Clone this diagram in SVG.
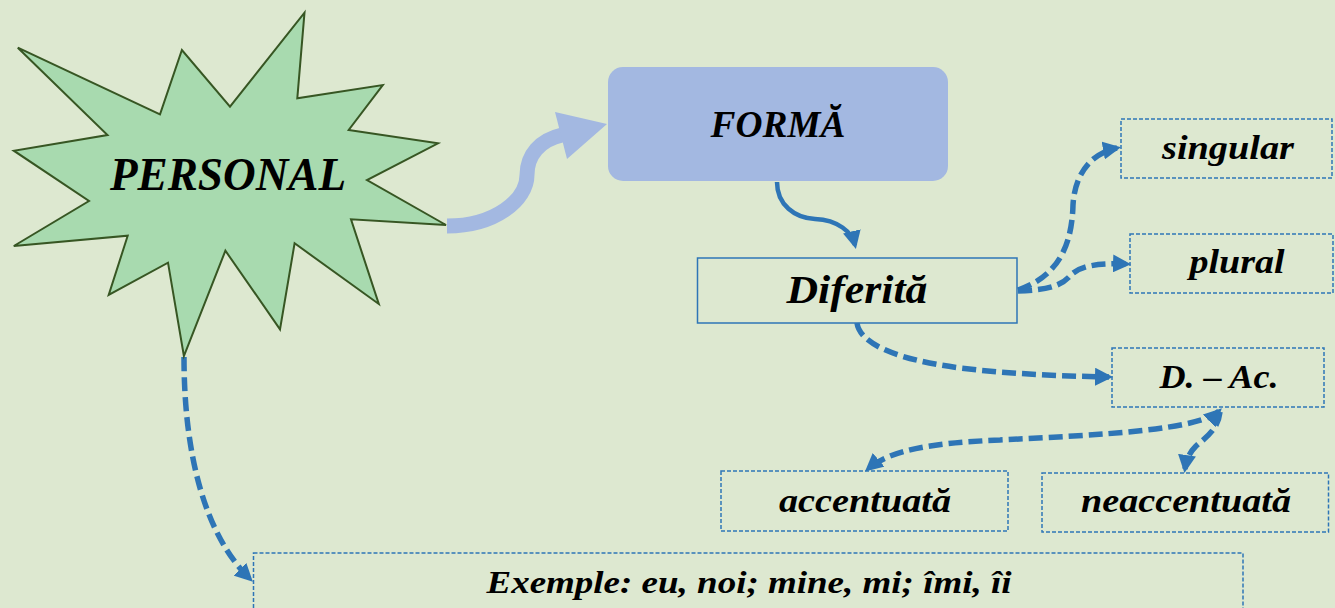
<svg xmlns="http://www.w3.org/2000/svg" width="1335" height="608" viewBox="0 0 1335 608">
<defs>
<style>
.lbl{font-family:"Liberation Serif","Times New Roman",serif;font-weight:bold;font-style:italic;fill:#000;text-anchor:middle}
.dbox{fill:none;stroke:#2E75B6;stroke-width:1.5;stroke-dasharray:4 2}
.dcon{fill:none;stroke:#2E75B6;stroke-width:5.5;stroke-dasharray:14 6}
</style>
<marker id="ah" viewBox="0 0 18 18" refX="14" refY="9" markerWidth="18" markerHeight="18" markerUnits="userSpaceOnUse" orient="auto-start-reverse">
<path d="M0,0 L18,9 L0,18 z" fill="#2E75B6"/>
</marker>
</defs>
<rect width="1335" height="608" fill="#DDE8D0"/>
<g id="connectors">
<path d="M447,226 C495,226 527,200 527,175 C527,155 540,140 562,135" fill="none" stroke="#A3B8E1" stroke-width="15"/>
<polygon points="555,112 607,124 567,159" fill="#A3B8E1"/>
<path d="M777,182 C777,205 795,218 815,219 C838,220 852,232 855,245" fill="none" stroke="#2E75B6" stroke-width="4.5" marker-end="url(#ah)"/>
<path class="dcon" d="M184,357 C184,455 205,535 250,579" marker-end="url(#ah)"/>
<path class="dcon" d="M1018,290 C1062,275 1072,240 1073,205 C1075,170 1095,152 1117,148" marker-end="url(#ah)"/>
<path class="dcon" d="M1018,291 C1050,290 1062,285 1070,276 C1080,265 1100,263 1127,264" marker-end="url(#ah)"/>
<path class="dcon" d="M857,323 C860,345 900,360 960,368 C1010,374 1060,376 1109,377" marker-end="url(#ah)"/>
<path class="dcon" d="M1219,411 C1200,430 1100,435 1000,440 C930,443 890,450 868,469" marker-start="url(#ah)" marker-end="url(#ah)"/>
<path class="dcon" d="M1220,412 C1218,430 1205,438 1196,446 C1188,454 1186,462 1185,469" marker-end="url(#ah)"/>
</g>
<g id="personal">
<polygon points="304.5,12.7 297.3,98.3 382.8,85 348.7,130 438,143.3 367,180 446,225 351,219.3 378.8,304 294.6,243.3 280,329.3 225.4,250.7 183.9,356 168,262.7 108.7,295 127.7,235.7 13.8,246 89,201 13.8,150.7 107.5,135 17.8,47.7 160,114.3 181.9,50 230,106.7" fill="#A8DAAF" stroke="#375623" stroke-width="2"/>
<text class="lbl" x="228" y="190" font-size="46" textLength="236" lengthAdjust="spacingAndGlyphs">PERSONAL</text>
</g>
<g id="forma">
<rect x="608" y="67" width="340" height="114" rx="15" fill="#A3B8E1"/>
<text class="lbl" x="778" y="137" font-size="37" textLength="135" lengthAdjust="spacingAndGlyphs">FORMĂ</text>
</g>
<g id="diferita">
<rect x="697.5" y="258" width="319.5" height="65" fill="none" stroke="#2E75B6" stroke-width="1.5"/>
<text class="lbl" x="857" y="303" font-size="40" textLength="141" lengthAdjust="spacingAndGlyphs">Diferită</text>
</g>
<g id="singular">
<rect class="dbox" x="1121" y="119" width="211" height="59"/>
<text class="lbl" x="1228" y="159" font-size="34" textLength="132" lengthAdjust="spacingAndGlyphs">singular</text>
</g>
<g id="plural">
<rect class="dbox" x="1130" y="234" width="203" height="59"/>
<text class="lbl" x="1237" y="273" font-size="34" textLength="95" lengthAdjust="spacingAndGlyphs">plural</text>
</g>
<g id="dac">
<rect class="dbox" x="1112" y="348" width="212" height="59"/>
<text class="lbl" x="1219" y="388" font-size="33" textLength="119" lengthAdjust="spacingAndGlyphs">D. – Ac.</text>
</g>
<g id="accentuata">
<rect class="dbox" x="721" y="471" width="287" height="60"/>
<text class="lbl" x="865" y="512" font-size="34" textLength="172" lengthAdjust="spacingAndGlyphs">accentuată</text>
</g>
<g id="neaccentuata">
<rect class="dbox" x="1042" y="473" width="286.5" height="59"/>
<text class="lbl" x="1186" y="512" font-size="34" textLength="210" lengthAdjust="spacingAndGlyphs">neaccentuată</text>
</g>
<g id="exemple">
<rect class="dbox" x="253.5" y="553" width="989.5" height="70"/>
<text class="lbl" x="749" y="593" font-size="32" textLength="525" lengthAdjust="spacingAndGlyphs">Exemple: eu, noi; mine, mi; îmi, îi</text>
</g>
</svg>
